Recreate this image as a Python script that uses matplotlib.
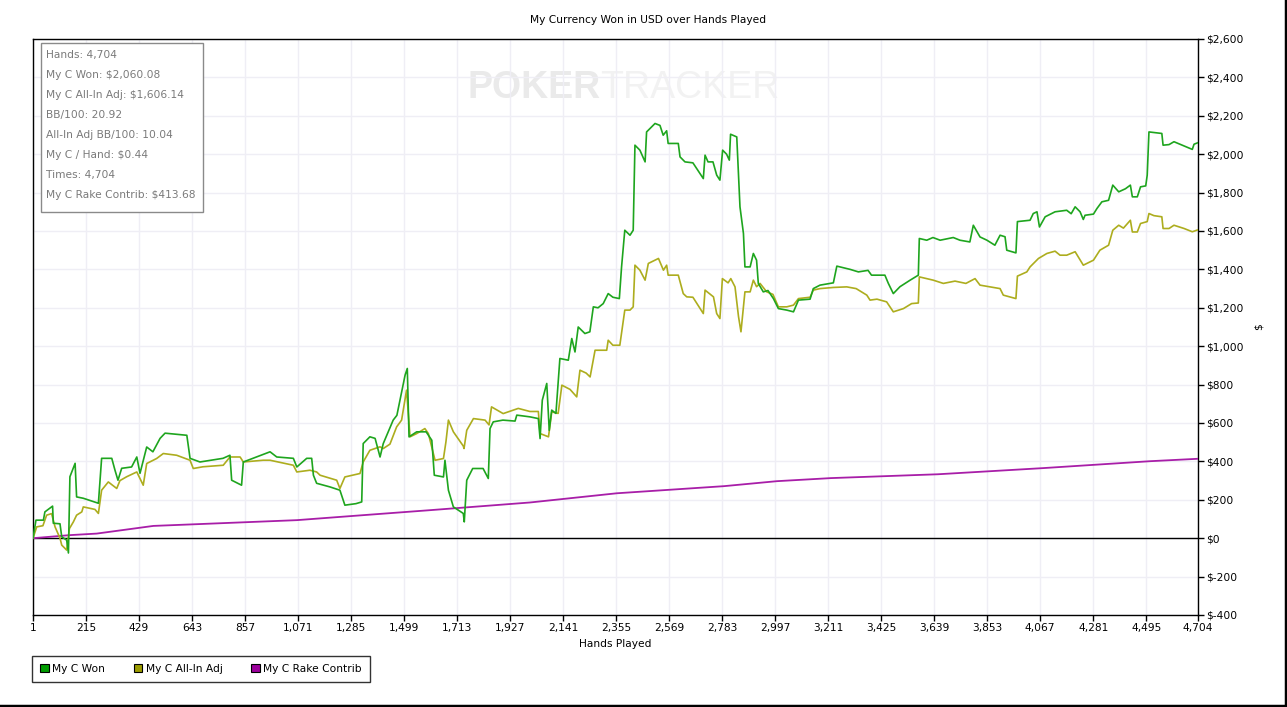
import numpy as np
import matplotlib.pyplot as plt
from matplotlib.patches import Patch, Rectangle
from matplotlib.ticker import FuncFormatter

# --- dados (mãos, dólares) ---
won_hands = [1, 13, 43, 49, 80, 83, 110, 117, 137, 144, 150, 171, 177, 204, 265, 278, 319, 332, 344, 359,
             399, 420, 433, 460, 485, 514, 534, 622, 635, 675, 768, 796, 803, 843, 850, 958, 985, 1052, 1066,
             1106, 1126, 1133, 1146, 1200, 1240, 1260, 1305, 1328, 1334, 1361, 1382, 1402, 1415, 1455, 1470,
             1489, 1503, 1512, 1519, 1550, 1588, 1611, 1621, 1658, 1664, 1678, 1698, 1738, 1742, 1752, 1776,
             1818, 1839, 1846, 1859, 1898, 1947, 1954, 2007, 2041, 2048, 2057, 2075, 2085, 2095, 2112, 2128,
             2162, 2176, 2189, 2202, 2229, 2249, 2263, 2282, 2303, 2323, 2342, 2368, 2377, 2390, 2411, 2424,
             2431, 2451, 2472, 2478, 2512, 2532, 2545, 2559, 2565, 2606, 2613, 2633, 2665, 2707, 2714, 2726,
             2746, 2761, 2774, 2785, 2801, 2812, 2817, 2842, 2855, 2869, 2875, 2896, 2909, 2922, 2929, 2949,
             2968, 2990, 3010, 3044, 3071, 3091, 3138, 3151, 3178, 3232, 3246, 3300, 3333, 3372, 3386, 3440,
             3454, 3474, 3501, 3542, 3575, 3579, 3609, 3634, 3663, 3716, 3743, 3783, 3797, 3824, 3852, 3884,
             3905, 3925, 3932, 3969, 3975, 4026, 4039, 4054, 4064, 4087, 4127, 4174, 4192, 4208, 4228, 4241,
             4248, 4282, 4296, 4316, 4343, 4360, 4384, 4411, 4431, 4439, 4459, 4472, 4493, 4499, 4506, 4558,
             4563, 4587, 4607, 4648, 4681, 4688, 4704]
won_vals = [0, 94, 94, 137, 167, 78, 75, 7, -10, -77, 320, 390, 215, 208, 182, 416, 416, 354, 302, 364,
            371, 423, 338, 475, 450, 520, 547, 536, 416, 397, 416, 432, 302, 276, 397, 450, 423, 416, 371,
            416, 416, 328, 286, 267, 250, 172, 180, 189, 493, 528, 520, 423, 493, 615, 640,
            762, 849, 884, 528, 554, 554, 510, 328, 319, 406, 250, 163, 129, 85, 302, 363,
            363, 311, 571, 606, 615, 610, 641, 632, 623, 519, 719, 806, 562, 667, 650, 936,
            927, 1040, 970, 1100, 1066, 1075, 1205, 1200, 1222, 1274, 1255, 1248, 1413, 1604, 1578, 1604,
            2047, 2021, 1960, 2116, 2160, 2150, 2099, 2122, 2056, 2056, 1986, 1960, 1955, 1873, 1995, 1960,
            1960, 1891, 1865, 2021, 2000, 1969, 2104, 2090, 1726, 1587, 1413, 1413, 1483, 1448, 1327, 1283,
            1290, 1248, 1196, 1188, 1179, 1240, 1245, 1300, 1318, 1330, 1417, 1400, 1387, 1395, 1370, 1370,
            1327, 1274, 1310, 1344, 1370, 1561, 1552, 1566, 1552, 1566, 1552, 1543, 1630, 1569, 1552, 1526,
            1578, 1570, 1500, 1486, 1649, 1656, 1691, 1700, 1621, 1674, 1700, 1708, 1690, 1726, 1700, 1660,
            1682, 1688, 1717, 1752, 1760, 1839, 1804, 1820, 1839, 1778, 1778, 1830, 1835, 1891, 2116, 2108,
            2047, 2050, 2065, 2043, 2025, 2052, 2060.08]

adj_hands = [1, 16, 41, 56, 76, 90, 110, 117, 137, 148, 164, 177, 198, 204, 251, 265, 278, 305, 339, 352,
             379, 420, 446, 460, 500, 527, 581, 635, 648, 687, 769, 796, 837, 850, 930, 958, 1052, 1066, 1119,
             1146, 1160, 1227, 1240, 1260, 1321, 1334, 1361, 1402, 1415, 1442, 1469, 1489, 1509, 1523, 1550,
             1583, 1597, 1624, 1658, 1668, 1678, 1698, 1738, 1741, 1752, 1779, 1826, 1842, 1852, 1899, 1960,
             2007, 2041, 2048, 2082, 2095, 2121, 2136, 2169, 2196, 2209, 2234, 2250, 2270, 2317, 2323, 2342,
             2370, 2390, 2411, 2424, 2431, 2451, 2472, 2485, 2512, 2526, 2546, 2559, 2565, 2606, 2626, 2640,
             2665, 2707, 2714, 2748, 2761, 2774, 2784, 2807, 2818, 2835, 2849, 2859, 2875, 2896, 2909, 2922,
             2936, 2963, 2988, 3010, 3044, 3071, 3091, 3138, 3151, 3178, 3232, 3286, 3324, 3367, 3380, 3408,
             3447, 3474, 3515, 3548, 3575, 3579, 3635, 3676, 3723, 3767, 3804, 3824, 3864, 3905, 3918, 3969,
             3975, 4013, 4026, 4060, 4094, 4127, 4147, 4174, 4208, 4241, 4282, 4308, 4343, 4360, 4384, 4403,
             4431, 4439, 4459, 4472, 4499, 4506, 4526, 4558, 4563, 4587, 4607, 4648, 4681, 4704]
adj_vals = [0, 59, 65, 120, 128, 59, 0, -36, -62, 50, 85, 120, 137, 163, 150, 129, 250, 293, 259, 300,
            320, 345, 276, 389, 415, 441, 432, 406, 363, 372, 380, 423, 423, 397, 406, 406, 380, 345, 354,
            345, 328, 302, 259, 319, 337, 397, 458, 476, 467, 490, 580, 615, 771, 528, 545,
            571, 545, 406, 415, 502, 615, 554, 480, 467, 562, 623, 615, 590, 684, 649, 676,
            660, 660, 545, 528, 658, 650, 797, 775, 736, 875, 860, 840, 979, 979, 1031, 1005,
            1005, 1188, 1188, 1205, 1422, 1396, 1344, 1431, 1448, 1457, 1396, 1422, 1370, 1370, 1274, 1257,
            1255, 1170, 1292, 1257, 1170, 1144, 1352, 1330, 1352, 1309, 1155, 1075, 1283, 1283, 1344, 1310,
            1327, 1283, 1270, 1205, 1205, 1214, 1248, 1255, 1292, 1300, 1306, 1309, 1300, 1266, 1240, 1245,
            1231, 1179, 1196, 1222, 1225, 1361, 1344, 1327, 1339, 1327, 1352, 1318, 1309, 1300, 1266, 1248,
            1365, 1387, 1413, 1457, 1483, 1495, 1474, 1474, 1492, 1422, 1448, 1500, 1526, 1604, 1630, 1615,
            1656, 1595, 1595, 1639, 1649, 1691, 1680, 1674, 1613, 1613, 1630, 1613, 1596, 1606.14]

rake_hands = [1, 150, 258, 487, 662, 1066, 1334, 1604, 2007, 2358, 2790, 3004, 3222, 3654, 4078, 4510, 4704]
rake_vals = [0, 16, 24, 64, 73, 94, 120, 146, 186, 234, 271, 297, 313, 333, 365, 401, 413.68]

x_ticks = [1, 215, 429, 643, 857, 1071, 1285, 1499, 1713, 1927, 2141, 2355, 2569, 2783, 2997,
           3211, 3425, 3639, 3853, 4067, 4281, 4495, 4704]
y_ticks = list(range(-400, 2601, 200))

stats = ["Hands: 4,704", "My C Won: $2,060.08", "My C All-In Adj: $1,606.14", "BB/100: 20.92",
         "All-In Adj BB/100: 10.04", "My C / Hand: $0.44", "Times: 4,704", "My C Rake Contrib: $413.68"]

cor_won = '#1ea51e'
cor_adj = '#adad1e'
cor_rake = '#a81ea8'
W, H = 1287, 707
fs = 7.7

fig = plt.figure(figsize=(W / 100, H / 100), dpi=100)
ax = fig.add_axes([33 / W, 1 - 615 / H, (1198 - 33) / W, (615 - 39) / H])

ax.plot(rake_hands, rake_vals, color=cor_rake, lw=1.3, zorder=3)
ax.plot(adj_hands, adj_vals, color=cor_adj, lw=1.2, zorder=4)
ax.plot(won_hands, won_vals, color=cor_won, lw=1.2, zorder=5)
ax.axhline(0, color='black', lw=1, zorder=2)

ax.set_xlim(1, 4704)
ax.set_ylim(-400, 2600)
ax.set_xticks(x_ticks)
ax.set_xticklabels([f"{t:,}" for t in x_ticks])
ax.set_yticks(y_ticks)
ax.yaxis.set_major_formatter(FuncFormatter(lambda v, p: f"${int(v):,}" if v >= 0 else f"$-{int(-v):,}"))
ax.yaxis.tick_right()
ax.yaxis.set_label_position('right')
ax.tick_params(direction='out', length=4, width=1, colors='black', labelsize=fs, pad=2)
ax.grid(True, color='#efeef5', lw=1, zorder=0)
for s in ax.spines.values():
    s.set_color('black')
    s.set_linewidth(1)

ax.set_xlabel('Hands Played', fontsize=fs, labelpad=4)
ax.set_ylabel('$', fontsize=fs, labelpad=7, rotation=90)
fig.text(648 / W, 1 - 20 / H, 'My Currency Won in USD over Hands Played', ha='center', va='center', fontsize=fs)

# marca d'água
ax.text(0.487, 0.915, 'POKER', transform=ax.transAxes, fontsize=27, fontweight='bold',
        family='Liberation Sans', color='#eaeaea', ha='right', va='center', zorder=1)
ax.text(0.487, 0.915, 'TRACKER', transform=ax.transAxes, fontsize=27,
        family='Liberation Sans', color='#f2f2f2', ha='left', va='center', zorder=1)

# caixa de estatísticas
fig.patches.append(Rectangle((41 / W, 1 - 212 / H), (203 - 41) / W, (212 - 43) / H,
                             transform=fig.transFigure, facecolor='white', edgecolor='#8a8a8a', lw=1, zorder=6))
for i, linha in enumerate(stats):
    fig.text(46 / W, 1 - (55 + 20 * i) / H, linha, fontsize=fs, color='#7a7a7a', va='center', ha='left', zorder=7)

# legenda
handles = [Patch(facecolor='#009c00', edgecolor='black', lw=0.8),
           Patch(facecolor='#9c9c00', edgecolor='black', lw=0.8),
           Patch(facecolor='#9c009c', edgecolor='black', lw=0.8)]
leg = fig.legend(handles, ['My C Won', 'My C All-In Adj', 'My C Rake Contrib'], ncol=3,
                 loc='upper left', bbox_to_anchor=(32 / W, 1 - 656 / H), fontsize=fs,
                 frameon=True, fancybox=False, edgecolor='black', handlelength=0.8, handleheight=0.8,
                 handletextpad=0.35, columnspacing=2.65, borderpad=0.75, borderaxespad=0)
leg.get_frame().set_linewidth(1)

# borda da figura
fig.add_artist(plt.Line2D([1 - 1.5 / W, 1 - 1.5 / W], [0, 1], color='black', lw=2.5, transform=fig.transFigure))
fig.add_artist(plt.Line2D([0, 1], [1.5 / H, 1.5 / H], color='black', lw=2.5, transform=fig.transFigure))

fig.savefig('out.png', dpi=100)
